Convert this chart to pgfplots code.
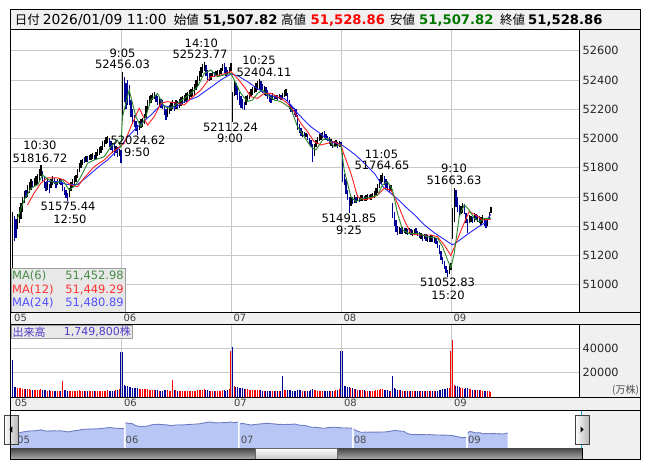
\documentclass[border=0pt]{standalone}
\usepackage{fontspec}
\setmainfont{DejaVu Sans}
\newfontfamily\jp{Noto Sans CJK JP}
\usepackage{pgfplots}
\usepackage{pgfplotstable}
\pgfplotsset{compat=1.18}

\definecolor{panelgray}{RGB}{240,240,240}
\definecolor{gridgray}{RGB}{200,200,200}
\definecolor{down}{RGB}{0,0,150}
\definecolor{ma6}{RGB}{40,135,40}
\definecolor{ma12}{RGB}{255,30,30}
\definecolor{ma24}{RGB}{40,40,255}
\definecolor{navfill}{RGB}{184,198,245}
\definecolor{navline}{RGB}{110,125,195}
\definecolor{hdrgreen}{RGB}{0,120,0}
\definecolor{volblue}{RGB}{80,60,200}

\pgfplotsset{
  panel/.style={
    scale only axis, anchor=north west,
    axis line style={draw=none}, major tick length=0pt,
    xmin=-0.92, xmax=339.88,
    xtick={65.5,131.5,197.5,263.5}, xticklabels={},
    grid=major, major grid style={draw=gridgray, line width=0.8pt},
    yticklabel pos=right, scaled y ticks=false,
    /pgf/number format/assume math mode=true,
    yticklabel style={font=\fontsize{11.3}{12}\selectfont, text=black!85,
      anchor=west, inner sep=0pt, xshift=3.5pt,
      /pgf/number format/1000 sep={}},
  },
  candle/.style={line width=1.4pt, mark=none,
    quiver={u=0, v=\thisrow{hi}-\thisrow{lo}}},
}

% 5-min bars, Jan 05 - Jan 09 (x = bar number, 66 bars a day)
% c: candle 0 = up (black) 1 = down (blue); v: volume; vc: volume colour
\pgfplotstableread{
x lo hi c v vc
0 50700 51497 0 30400 1
1 51300 51470 1 8600 1
2 51320 51450 1 8200 1
3 51380 51480 0 7800 0
4 51420 51530 0 7200 0
5 51450 51560 0 7400 0
6 51500 51600 0 6900 0
7 51560 51640 0 6600 0
8 51590 51650 1 6400 1
9 51600 51680 0 6500 0
10 51630 51700 0 6200 0
11 51650 51720 0 6000 0
12 51660 51710 1 5800 1
13 51670 51730 0 6100 0
14 51680 51740 0 5900 0
15 51690 51760 0 5800 0
16 51700 51790 0 6000 0
17 51740 51817 0 6300 0
18 51700 51780 1 5900 1
19 51660 51740 1 5700 1
20 51640 51700 1 5600 1
21 51650 51720 0 5300 0
22 51630 51690 1 5400 1
23 51660 51720 0 5200 0
24 51680 51740 0 5100 0
25 51690 51730 1 5000 1
26 51660 51710 1 5200 1
27 51680 51720 0 5000 0
28 51690 51730 0 4900 0
29 51680 51720 1 5100 1
30 51640 51700 1 13500 0
31 51610 51670 1 5600 1
32 51590 51650 1 5400 1
33 51575 51630 1 5300 1
34 51600 51660 0 5200 0
35 51640 51700 0 5100 0
36 51670 51720 0 5000 0
37 51690 51740 0 4900 0
38 51700 51750 0 4800 0
39 51730 51790 0 5200 0
40 51770 51830 0 5400 0
41 51800 51850 0 5100 0
42 51820 51860 0 4900 0
43 51830 51870 1 4800 1
44 51840 51880 0 4700 0
45 51840 51880 1 4600 1
46 51850 51890 0 4800 0
47 51855 51895 0 4700 0
48 51860 51900 0 4900 0
49 51850 51890 1 4600 1
50 51860 51910 0 4800 0
51 51880 51930 0 4900 0
52 51890 51940 0 5000 0
53 51900 51950 0 4800 0
54 51920 51980 0 5100 0
55 51940 51990 0 5000 0
56 51960 52010 0 5200 0
57 51970 52016 0 5400 0
58 51940 52000 1 5100 1
59 51920 51980 1 5000 1
60 51900 51970 1 5200 1
61 51880 51960 1 5300 1
62 51900 51950 0 5500 0
63 51870 51940 1 5800 1
64 51880 51930 0 6200 0
65 51833 51920 1 37300 1
66 52150 52456 0 37000 1
67 52250 52420 1 9800 1
68 52200 52380 1 9200 1
69 52230 52400 1 8800 1
70 52230 52365 1 8400 1
71 52150 52260 1 8000 1
72 52100 52200 1 7600 1
73 52080 52160 1 7200 1
74 52050 52120 1 7000 1
75 52025 52090 1 7400 1
76 52060 52120 0 6800 0
77 52070 52130 0 6500 0
78 52080 52140 0 6300 0
79 52100 52170 0 6200 0
80 52140 52220 0 6400 0
81 52180 52260 0 6300 0
82 52220 52290 0 6000 0
83 52240 52300 0 5800 0
84 52260 52310 0 5700 0
85 52270 52320 0 5600 0
86 52250 52300 1 5500 1
87 52230 52290 1 5400 1
88 52220 52280 0 5300 0
89 52210 52270 1 5200 1
90 52200 52260 1 5300 1
91 52160 52230 1 5600 1
92 52126 52200 1 5900 1
93 52150 52210 0 5400 0
94 52170 52230 0 5200 0
95 52190 52250 0 5100 0
96 52200 52260 0 13700 0
97 52190 52250 1 5800 1
98 52200 52260 0 5400 0
99 52200 52255 1 5200 1
100 52210 52270 0 5000 0
101 52220 52280 0 4900 0
102 52230 52290 0 4800 0
103 52240 52300 0 4900 0
104 52250 52310 0 4700 0
105 52260 52320 0 4800 0
106 52270 52330 0 4900 0
107 52280 52340 0 5000 0
108 52290 52350 0 4800 0
109 52300 52370 0 5100 0
110 52330 52400 0 5300 0
111 52360 52430 0 5400 0
112 52390 52460 0 5600 0
113 52420 52490 0 5800 0
114 52450 52510 0 6000 0
115 52460 52524 0 6200 0
116 52430 52500 1 5800 1
117 52400 52470 1 5500 1
118 52390 52450 1 5300 1
119 52400 52450 0 5100 0
120 52420 52460 0 5000 0
121 52420 52455 1 4900 1
122 52425 52460 0 4800 0
123 52430 52465 0 4900 0
124 52430 52470 0 5000 0
125 52440 52480 0 5200 0
126 52460 52510 0 5500 0
127 52450 52515 1 5400 1
128 52430 52490 1 5300 1
129 52435 52470 1 5600 1
130 52440 52490 0 6200 0
131 52460 52518 0 38200 0
132 52112 52320 0 41300 1
133 52290 52400 0 9000 0
134 52300 52380 1 8600 1
135 52260 52350 1 8200 1
136 52230 52320 1 7800 1
137 52210 52290 1 7500 1
138 52200 52270 1 7100 1
139 52194 52250 1 6900 1
140 52230 52290 0 6600 0
141 52250 52300 0 6300 0
142 52270 52320 0 6000 0
143 52290 52340 0 5800 0
144 52300 52350 0 5700 0
145 52310 52360 0 5600 0
146 52320 52380 0 5500 0
147 52330 52390 0 5600 0
148 52340 52404 0 5800 0
149 52320 52390 1 5500 1
150 52310 52370 1 5300 1
151 52300 52360 0 5100 0
152 52290 52350 1 5000 1
153 52270 52330 1 5200 1
154 52250 52310 1 5300 1
155 52240 52300 1 5100 1
156 52260 52310 0 4900 0
157 52260 52300 1 4800 1
158 52270 52300 0 4700 0
159 52260 52300 1 4800 1
160 52270 52305 0 4700 0
161 52265 52300 1 4900 1
162 52270 52310 0 17000 1
163 52280 52330 0 6000 0
164 52290 52335 0 5600 0
165 52250 52310 1 5500 1
166 52200 52260 1 5700 1
167 52180 52230 1 5500 1
168 52170 52220 1 5300 1
169 52160 52210 1 5200 1
170 52150 52200 1 5300 1
171 52060 52160 1 5900 1
172 52040 52100 1 5600 1
173 52020 52070 1 5400 1
174 52010 52050 0 5100 0
175 52015 52045 1 5000 1
176 52010 52040 0 4900 0
177 51990 52030 1 5100 1
178 51960 52000 1 5300 1
179 51940 51990 1 5500 1
180 51838 51960 1 6200 1
181 51880 51960 0 5800 0
182 51940 51990 0 5400 0
183 51960 52010 0 5200 0
184 51980 52030 0 5000 0
185 51990 52040 0 4900 0
186 52000 52045 0 4800 0
187 52000 52048 1 4900 1
188 51990 52030 1 5000 1
189 51980 52020 1 5100 1
190 51960 52010 1 5200 1
191 51950 51995 0 5000 0
192 51935 51980 1 5200 1
193 51940 51985 0 5300 0
194 51945 51990 0 5500 0
195 51935 51975 1 5800 1
196 51940 51980 0 6300 0
197 51940 51975 1 37600 1
198 51700 51900 1 37900 1
199 51680 51760 1 9200 1
200 51620 51720 1 8800 1
201 51580 51650 1 8300 1
202 51492 51600 1 8000 1
203 51540 51600 0 7400 0
204 51550 51600 1 7000 1
205 51560 51610 0 6600 0
206 51560 51600 1 6300 1
207 51570 51610 0 6000 0
208 51565 51600 1 5800 1
209 51570 51610 0 5600 0
210 51575 51610 0 5500 0
211 51570 51605 1 5400 1
212 51575 51610 0 5300 0
213 51580 51620 0 5200 0
214 51585 51615 1 5100 1
215 51580 51620 0 5000 0
216 51590 51625 0 5000 0
217 51590 51640 0 5200 0
218 51610 51660 0 5500 0
219 51630 51690 0 5800 0
220 51660 51720 0 6000 0
221 51690 51750 0 6200 0
222 51700 51765 0 6400 0
223 51680 51740 1 5900 1
224 51660 51720 1 5600 1
225 51640 51700 1 5400 1
226 51630 51690 1 5300 1
227 51640 51680 0 5200 0
228 51455 51560 1 17000 1
229 51400 51500 1 7000 1
230 51360 51440 1 6500 1
231 51340 51400 1 6000 1
232 51350 51395 0 5600 0
233 51345 51390 1 5400 1
234 51350 51395 0 5200 0
235 51355 51390 1 5100 1
236 51350 51385 0 5000 0
237 51340 51380 1 4900 1
238 51345 51385 0 4800 0
239 51340 51380 1 4900 1
240 51335 51375 0 4800 0
241 51340 51380 0 4700 0
242 51345 51385 1 4800 1
243 51330 51370 1 4900 1
244 51320 51360 1 5000 1
245 51310 51355 0 4800 0
246 51300 51345 1 4900 1
247 51310 51350 0 4700 0
248 51300 51345 1 4800 1
249 51295 51340 0 4700 0
250 51290 51335 1 4800 1
251 51295 51340 0 4700 0
252 51290 51330 1 4900 1
253 51285 51325 0 4800 0
254 51280 51320 1 5000 1
255 51250 51300 1 5200 1
256 51210 51270 1 5500 1
257 51170 51230 1 5800 1
258 51140 51190 1 6200 1
259 51110 51160 1 6500 1
260 51080 51130 1 6800 1
261 51053 51100 1 7400 1
262 51070 51130 0 7000 0
263 51100 51150 0 37900 0
264 51310 51525 0 47000 0
265 51430 51664 0 10000 0
266 51530 51650 1 9300 1
267 51500 51600 1 8800 1
268 51470 51545 1 8200 1
269 51480 51540 0 7600 0
270 51490 51560 0 7100 0
271 51480 51550 1 6800 1
272 51420 51490 1 7000 1
273 51355 51450 1 7300 1
274 51420 51475 0 6600 0
275 51430 51470 0 6200 0
276 51420 51460 1 6000 1
277 51430 51490 0 5800 0
278 51440 51480 1 5700 1
279 51430 51475 0 5600 0
280 51420 51470 1 5500 1
281 51410 51460 0 5400 0
282 51420 51476 0 5300 0
283 51400 51450 1 5200 1
284 51390 51440 1 5100 1
285 51400 51455 0 5000 0
286 51440 51500 0 4900 0
287 51490 51529 0 4000 0
}\bars

\begin{document}
\begin{tikzpicture}[x=1pt, y=-1pt,
  lbl/.style={font=\fontsize{11.5}{12}\selectfont, inner sep=0pt, text=black},
  dl/.style={font=\fontsize{10}{11}\selectfont, inner sep=0pt, text=black!75, anchor=west}]

\fill[white] (0,0) rectangle (653,470);

% header
\fill[panelgray] (10.5,9.5) rectangle (640.5,30);
\draw[line width=1pt] (10.5,9.5) rectangle (640.5,30);
\begin{scope}[every node/.style={anchor=base west, inner sep=0pt}]
\node at (14.6,24.5) {\jp\fontsize{12.5}{14}\selectfont 日付};
\node at (42.7,24.5) {\fontsize{13.8}{15}\selectfont 2026/01/09 11:00};
\node at (173.6,24.5) {\jp\fontsize{12.5}{14}\selectfont 始値};
\node at (203,24.5) {\fontsize{13.2}{15}\selectfont\bfseries 51,507.82};
\node at (281,24.5) {\jp\fontsize{12.5}{14}\selectfont 高値};
\node[text=red] at (310.5,24.5) {\fontsize{13.2}{15}\selectfont\bfseries 51,528.86};
\node at (390,24.5) {\jp\fontsize{12.5}{14}\selectfont 安値};
\node[text=hdrgreen] at (419,24.5) {\fontsize{13.2}{15}\selectfont\bfseries 51,507.82};
\node at (500,24.5) {\jp\fontsize{12.5}{14}\selectfont 終値};
\node at (528,24.5) {\fontsize{13.2}{15}\selectfont\bfseries 51,528.86};
\end{scope}

% grey panels
\fill[panelgray] (579,30) rectangle (640.5,312);
\fill[panelgray] (10.5,312) rectangle (640.5,324);
\fill[panelgray] (579,324) rectangle (640.5,397);
\fill[panelgray] (10.5,397) rectangle (640.5,410);
\fill[panelgray] (582,410) rectangle (640.5,459.3);

% price panel
\begin{axis}[panel, at={(11pt,-30pt)}, width=568pt, height=282pt,
  ymin=50813.3, ymax=52741.5, ytick={51000,51200,...,52600}]
\addplot[candle, black, restrict expr to domain={\thisrow{c}}{0:0}]
  table[x=x, y=lo] {\bars};
\addplot[candle, down, restrict expr to domain={\thisrow{c}}{1:1}]
  table[x=x, y=lo] {\bars};
% MA(24)
\addplot[ma24, line width=0.9pt] coordinates {
(20,51705) (27,51705) (33,51685) (39,51685) (45,51740) (51,51800) (57,51853)
(63,51921) (67,51978) (69,52010) (75,52080) (83,52160) (89,52229) (97,52208)
(103,52250) (111,52285) (119,52350) (125,52400) (131,52440) (135,52430)
(141,52388) (147,52340) (153,52300) (159,52280) (163,52274) (167,52230)
(171,52172) (175,52125) (179,52080) (185,52030) (189,51990) (193,51970)
(197,51960) (202,51920) (207,51875) (212,51820) (217,51763) (223,51660)
(228,51615) (233,51565) (237,51520) (241,51480) (247,51410) (253,51355)
(259,51310) (264,51272) (267,51294) (273,51345) (279,51392) (283,51420)
(287,51481)};
% MA(12)
\addplot[ma12, line width=0.9pt] coordinates {
(9,51545) (13,51627) (17,51695) (21,51730) (27,51730) (31,51716) (35,51682)
(39,51670) (43,51730) (49,51807) (55,51853) (59,51898) (63,51932) (67,51967)
(71,52080) (76,52206) (81,52092) (85,52149) (89,52240) (93,52252) (99,52240)
(103,52229) (107,52274) (113,52331) (119,52422) (125,52434) (131,52457)
(135,52411) (139,52354) (143,52285) (147,52274) (151,52308) (155,52308)
(161,52274) (165,52240) (169,52183) (173,52103) (177,52046) (181,51978)
(185,51955) (189,51967) (193,51978) (197,51955) (199,51887) (203,51762)
(207,51602) (211,51580) (215,51590) (219,51613) (223,51659) (227,51647)
(231,51556) (235,51442) (239,51350) (243,51340) (247,51340) (251,51340)
(255,51328) (259,51271) (263,51200) (266,51283) (270,51396) (274,51500)
(278,51476) (282,51442) (287,51449)};
% MA(6)
\addplot[ma6, line width=0.9pt] coordinates {
(3,51454) (7,51579) (11,51659) (15,51682) (18,51750) (22,51716) (26,51693)
(30,51716) (34,51647) (38,51682) (41,51738) (45,51830) (49,51853) (55,51875)
(59,51944) (63,51989) (65,51940) (66,52149) (70,52331) (74,52149) (77,52080)
(80,52149) (83,52263) (87,52308) (91,52217) (95,52206) (99,52240) (103,52274)
(107,52308) (111,52354) (115,52445) (119,52468) (123,52422) (127,52434)
(131,52445) (133,52400) (137,52308) (141,52252) (144,52263) (147,52308)
(150,52331) (153,52297) (157,52263) (161,52252) (164,52229) (167,52206)
(171,52080) (175,52012) (179,51944) (182,51921) (186,51989) (189,52001)
(193,51944) (197,51955) (199,51784) (203,51602) (206,51568) (210,51590)
(215,51597) (219,51613) (222,51682) (225,51705) (228,51647) (231,51488)
(234,51374) (238,51350) (243,51350) (249,51328) (255,51317) (258,51260)
(261,51169) (263,51115) (265,51214) (268,51465) (271,51545) (274,51511)
(277,51454) (280,51430) (283,51454) (287,51453)};
\end{axis}

% peak / trough labels
\node[lbl] at (40,145) {10:30};     \node[lbl] at (40,158) {51816.72};
\node[lbl] at (68,206.5) {51575.44}; \node[lbl] at (70,219) {12:50};
\node[lbl] at (122.5,53) {9:05};    \node[lbl] at (122.5,64.5) {52456.03};
\node[lbl] at (138,140) {52024.62}; \node[lbl] at (137,152.7) {9:50};
\node[lbl] at (201.3,43.5) {14:10}; \node[lbl] at (200,54.5) {52523.77};
\node[lbl] at (259,60.7) {10:25};   \node[lbl] at (264,72.3) {52404.11};
\node[lbl] at (230.5,127.7) {52112.24}; \node[lbl] at (230,138.3) {9:00};
\node[lbl] at (381.5,154) {11:05};  \node[lbl] at (382,165) {51764.65};
\node[lbl] at (349,218.3) {51491.85}; \node[lbl] at (349,230.7) {9:25};
\node[lbl] at (454,168.3) {9:10};   \node[lbl] at (454,180.7) {51663.63};
\node[lbl] at (447.5,282.3) {51052.83}; \node[lbl] at (448,295) {15:20};

% MA legend box
\fill[black!9] (11,268.5) rectangle (125,312);
\draw[black!38] (11,268.5) rectangle (125,312);
\begin{scope}[every node/.style={font=\fontsize{11.5}{12}\selectfont, inner sep=0pt}]
\node[anchor=west, text={rgb,255:red,70;green,140;blue,70}] at (12,275.7) {MA(6)};
\node[anchor=east, text={rgb,255:red,70;green,140;blue,70}] at (124,275.7) {51,452.98};
\node[anchor=west, text={rgb,255:red,255;green,50;blue,50}] at (12,289.5) {MA(12)};
\node[anchor=east, text={rgb,255:red,255;green,50;blue,50}] at (124,289.5) {51,449.29};
\node[anchor=west, text={rgb,255:red,80;green,80;blue,255}] at (12,303.3) {MA(24)};
\node[anchor=east, text={rgb,255:red,80;green,80;blue,255}] at (124,303.3) {51,480.89};
\end{scope}

% date strips
\foreach \d/\px in {05/14, 06/123.3, 07/233.3, 08/343.3, 09/453.3} {
  \node[dl] at (\px,318) {\d};
  \node[dl] at (\px+0.6,403) {\d};
}

% volume panel
\begin{axis}[panel, at={(11pt,-324pt)}, width=568pt, height=73pt,
  ymin=0, ymax=60000, ytick={20000,40000}]
\addplot[ycomb, line width=1.1pt, color=red, mark=none,
  restrict expr to domain={\thisrow{vc}}{0:0}] table[x=x, y=v] {\bars};
\addplot[ycomb, line width=1.1pt, color=down, mark=none,
  restrict expr to domain={\thisrow{vc}}{1:1}] table[x=x, y=v] {\bars};
\end{axis}
\node[anchor=west, inner sep=0pt, text=black!70] at (612,390.5)
  {\jp\fontsize{10}{11}\selectfont (万株)};
\fill[black!9] (11,325.5) rectangle (132,338.5);
\draw[black!38] (11,325.5) rectangle (132,338.5);
\node[anchor=west, inner sep=0pt, text=volblue] at (12.5,332)
  {\jp\fontsize{11}{12}\selectfont 出来高};
\node[anchor=east, inner sep=0pt, text=volblue] at (131,332)
  {\fontsize{11}{12}\selectfont 1,749,800\jp 株};

% navigator
\begin{axis}[at={(11pt,-410pt)}, anchor=north west, scale only axis,
  width=571pt, height=38.3pt, xmin=-0.27, xmax=330,
  ymin=50151, ymax=53605, hide axis]
\addplot[fill=navfill, draw=none, restrict x to domain=0:65] table[x=x, y=hi] {\bars} \closedcycle;
\addplot[fill=navfill, draw=none, restrict x to domain=66:131] table[x=x, y=hi] {\bars} \closedcycle;
\addplot[fill=navfill, draw=none, restrict x to domain=132:197] table[x=x, y=hi] {\bars} \closedcycle;
\addplot[fill=navfill, draw=none, restrict x to domain=198:263] table[x=x, y=hi] {\bars} \closedcycle;
\addplot[fill=navfill, draw=none, restrict x to domain=264:287] table[x=x, y=hi] {\bars} \closedcycle;
\addplot[navline, line width=0.9pt, restrict x to domain=0:65] table[x=x, y=hi] {\bars};
\addplot[navline, line width=0.9pt, restrict x to domain=66:131] table[x=x, y=hi] {\bars};
\addplot[navline, line width=0.9pt, restrict x to domain=132:197] table[x=x, y=hi] {\bars};
\addplot[navline, line width=0.9pt, restrict x to domain=198:263] table[x=x, y=hi] {\bars};
\addplot[navline, line width=0.9pt, restrict x to domain=264:287] table[x=x, y=hi] {\bars};
\end{axis}
\foreach \d/\px in {05/17, 06/125.5, 07/240.6, 08/353.6, 09/467.8} {
  \node[dl, text=black!70] at (\px,440) {\d};
}
\draw[color={rgb,255:red,0;green,170;blue,210}] (10.5,410) -- (10.5,448.3);
\draw[color={rgb,255:red,0;green,170;blue,210}] (581.5,410) -- (581.5,448.3);
% arrow buttons
\shade[left color=white, right color=black!28] (4,415) rectangle (18,444);
\draw[black!75] (4,415) rectangle (18,444);
\fill (12.3,426.3) -- (12.3,432.7) -- (9.3,429.5) -- cycle;
\shade[left color=white, right color=black!28] (575,415) rectangle (589,444);
\draw[black!75] (575,415) rectangle (589,444);
\fill (580.5,426.3) -- (580.5,432.7) -- (583.5,429.5) -- cycle;
% scroll bar
\shade[top color=black!72, bottom color=black!32] (10.5,448.3) rectangle (582,459.3);
\shade[top color=white, bottom color=black!22] (255,448.3) rectangle (337,459.3);
\draw[black!60] (255,448.3) rectangle (337,459.3);

% frame lines
\draw[line width=1pt] (10.5,30) rectangle (640.5,459.3);
\draw (10.5,312) -- (640.5,312);
\draw (10.5,324) -- (640.5,324);
\draw (10.5,397) -- (640.5,397);
\draw (10.5,410) -- (640.5,410);
\draw (579,30) -- (579,312);
\draw (579,324) -- (579,397);
\draw (582,448.3) -- (582,459.3);
\end{tikzpicture}
\end{document}
